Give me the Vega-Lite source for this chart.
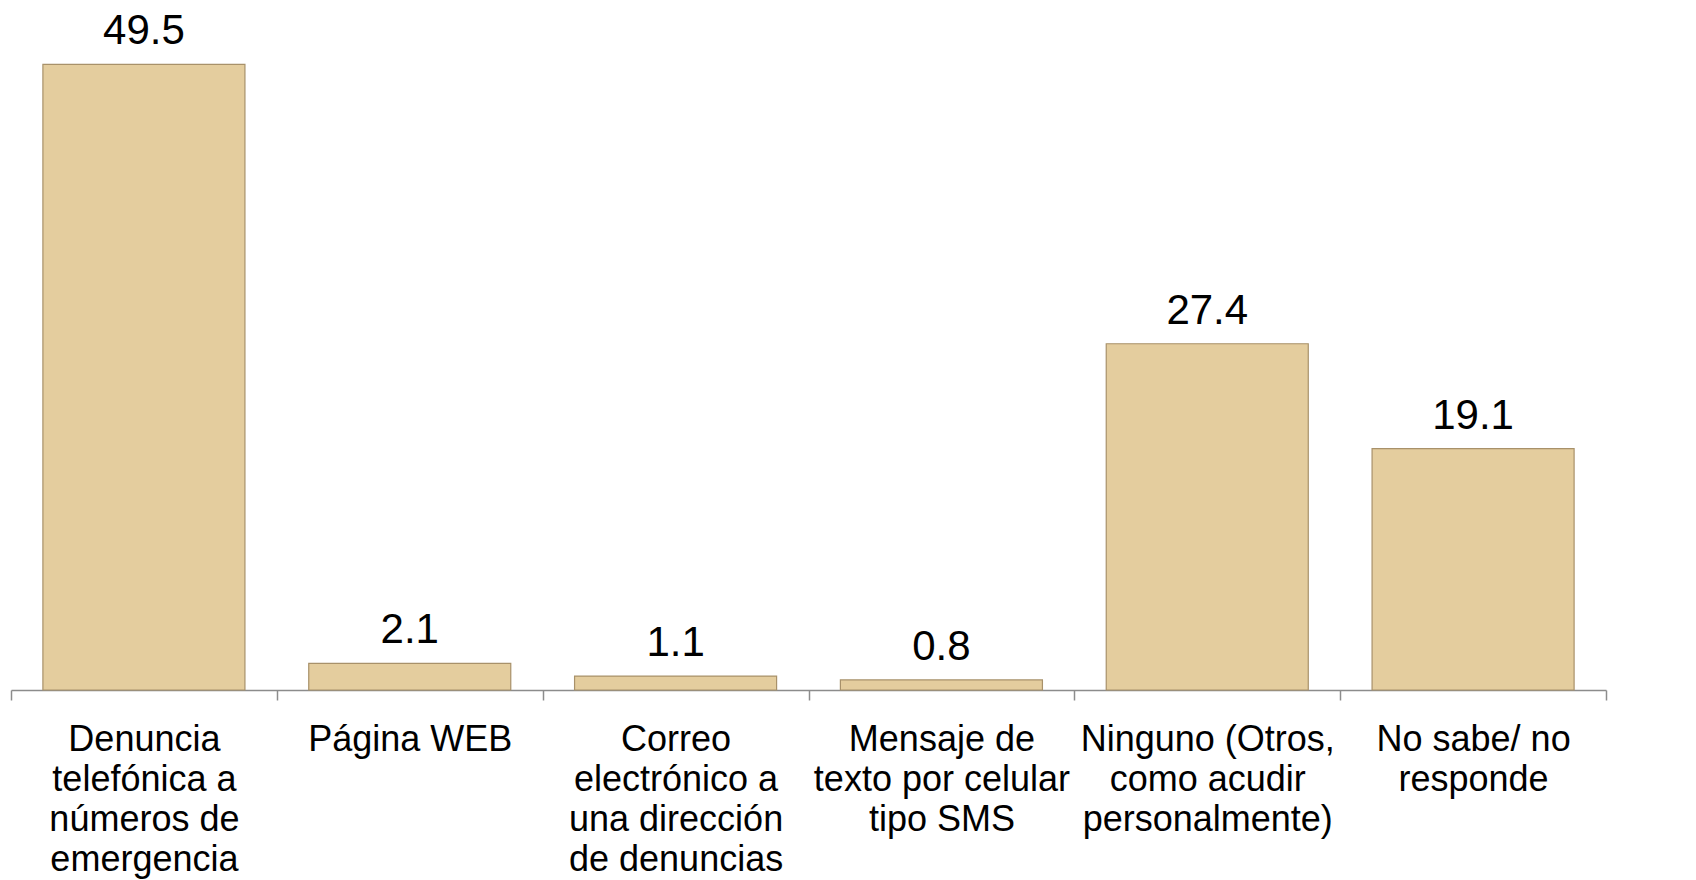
{
  "$schema": "https://vega.github.io/schema/vega-lite/v6.json",
  "width": 1595,
  "height": 690,
  "autosize": {"type": "none"},
  "padding": {"left": 11, "top": 0, "right": 90, "bottom": 190},
  "background": "white",
  "config": {"view": {"stroke": null}, "font": "Liberation Sans"},
  "data": {
    "values": [
      {"categoria": "Denuncia|telefónica a|números de|emergencia", "valor": 49.5},
      {"categoria": "Página WEB", "valor": 2.1},
      {"categoria": "Correo|electrónico a|una dirección|de denuncias", "valor": 1.1},
      {"categoria": "Mensaje de|texto por celular|tipo SMS", "valor": 0.8},
      {"categoria": "Ninguno (Otros,|como acudir|personalmente)", "valor": 27.4},
      {"categoria": "No sabe/ no|responde", "valor": 19.1}
    ]
  },
  "encoding": {
    "x": {
      "field": "categoria",
      "type": "nominal",
      "sort": null,
      "scale": {"paddingInner": 0, "paddingOuter": 0},
      "axis": {
        "title": null,
        "labelAngle": 0,
        "labelExpr": "split(datum.label, '|')",
        "labelFontSize": 36,
        "labelLineHeight": 40,
        "labelColor": "#000000",
        "labelPadding": 22,
        "labelBaseline": "top",
        "labelLimit": 400,
        "tickBand": "extent",
        "tickSize": 10,
        "tickColor": "#8c8c8c",
        "tickWidth": 1.5,
        "domainColor": "#8c8c8c",
        "domainWidth": 1.5
      }
    },
    "y": {
      "field": "valor",
      "type": "quantitative",
      "scale": {"domain": [0, 54.6], "nice": false},
      "axis": null
    }
  },
  "layer": [
    {
      "mark": {"type": "bar", "width": {"band": 0.76}, "color": "#E4CD9E", "stroke": "#A8916A", "strokeWidth": 1.2}
    },
    {
      "mark": {"type": "text", "baseline": "alphabetic", "dy": -20, "fontSize": 42, "color": "#000000"},
      "encoding": {"text": {"field": "valor", "type": "quantitative", "format": ".1f"}}
    }
  ]
}
